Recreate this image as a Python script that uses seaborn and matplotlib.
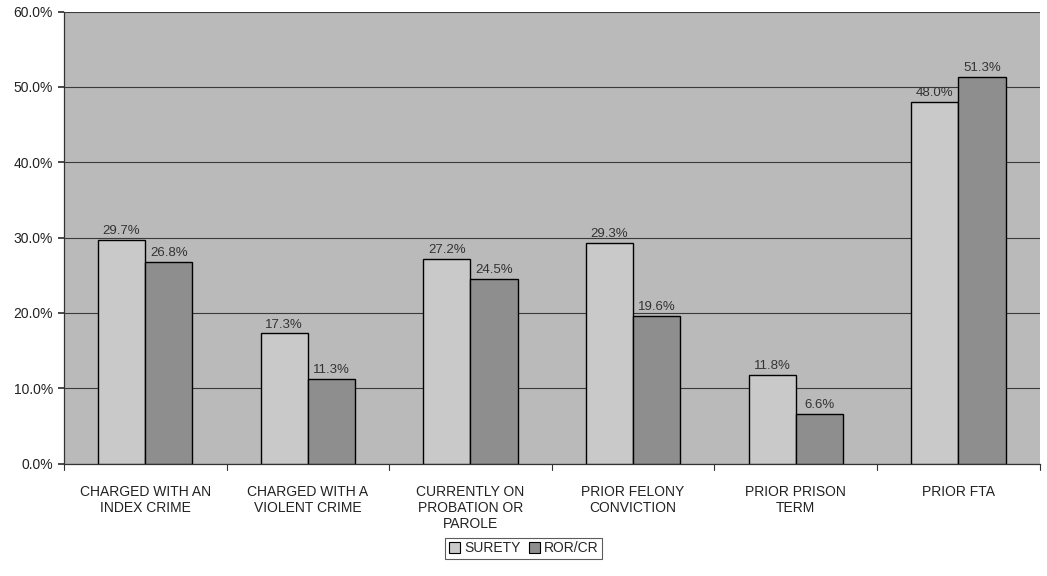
import matplotlib
matplotlib.use("Agg")
import matplotlib.pyplot as plt
import seaborn as sns
import pandas as pd
from matplotlib.patches import Rectangle

categories = [
    "CHARGED WITH AN\nINDEX CRIME",
    "CHARGED WITH A\nVIOLENT CRIME",
    "CURRENTLY ON\nPROBATION OR\nPAROLE",
    "PRIOR FELONY\nCONVICTION",
    "PRIOR PRISON\nTERM",
    "PRIOR FTA",
]
surety = [29.7, 17.3, 27.2, 29.3, 11.8, 48.0]
ror_cr = [26.8, 11.3, 24.5, 19.6, 6.6, 51.3]
series_names = ["SURETY", "ROR/CR"]
y_ticks = [0, 10, 20, 30, 40, 50, 60]

df = pd.DataFrame({
    "category": categories * 2,
    "series": [series_names[0]] * len(categories) + [series_names[1]] * len(categories),
    "value": surety + ror_cr,
})

sns.set_theme(style="white")
plt.rcParams["font.family"] = ["Liberation Sans", "DejaVu Sans"]

fig = plt.figure(figsize=(10.47, 5.76), dpi=100)
ax = fig.add_axes([0.061, 0.195, 0.932, 0.785])
ax.set_facecolor("#bababa")

palette = {"SURETY": "#c9c9c9", "ROR/CR": "#8e8e8e"}
sns.barplot(data=df, x="category", y="value", hue="series", palette=palette,
            width=0.58, edgecolor="black", linewidth=1.0, saturation=1,
            ax=ax, legend=False, zorder=3)

ax.set_ylim(0, 60)
ax.set_xlim(-0.5, len(categories) - 0.5)
ax.set_yticks(y_ticks)
ax.set_yticklabels([f"{v:.1f}%" for v in y_ticks], fontsize=10, color="#222222")
ax.yaxis.grid(True, color="#3a3a3a", linewidth=0.8, zorder=1)
ax.set_axisbelow(True)
ax.set_xlabel("")
ax.set_ylabel("")
ax.set_xticks(range(len(categories)))
ax.set_xticklabels(categories, fontsize=10, color="#222222", linespacing=1.2)
ax.tick_params(axis="x", length=0, pad=15)
ax.tick_params(axis="y", length=4, left=True, color="#333333", pad=4)

# category boundary ticks on the x axis
for b in range(len(categories) + 1):
    ax.plot([b - 0.5, b - 0.5], [0, -0.8], color="#333333", lw=0.8,
            clip_on=False, zorder=4)

for side in ["top", "right"]:
    ax.spines[side].set_visible(False)
for side in ["left", "bottom"]:
    ax.spines[side].set_color("#333333")
    ax.spines[side].set_linewidth(0.9)

for container in ax.containers:
    ax.bar_label(container, labels=[f"{v:.1f}%" for v in container.datavalues],
                 fontsize=9.5, color="#333333", padding=2)

handles = [Rectangle((0, 0), 1, 1, facecolor=palette[s], edgecolor="black", lw=0.8)
           for s in series_names]
leg = fig.legend(handles, series_names, loc="center", bbox_to_anchor=(0.5, 0.048),
                 ncol=2, frameon=True, fontsize=10, handlelength=0.8,
                 handleheight=0.8, handletextpad=0.3, columnspacing=0.6,
                 borderpad=0.25, fancybox=False)
leg.get_frame().set_edgecolor("#333333")
leg.get_frame().set_linewidth(0.8)

fig.savefig("out.png", dpi=100, facecolor="white")
